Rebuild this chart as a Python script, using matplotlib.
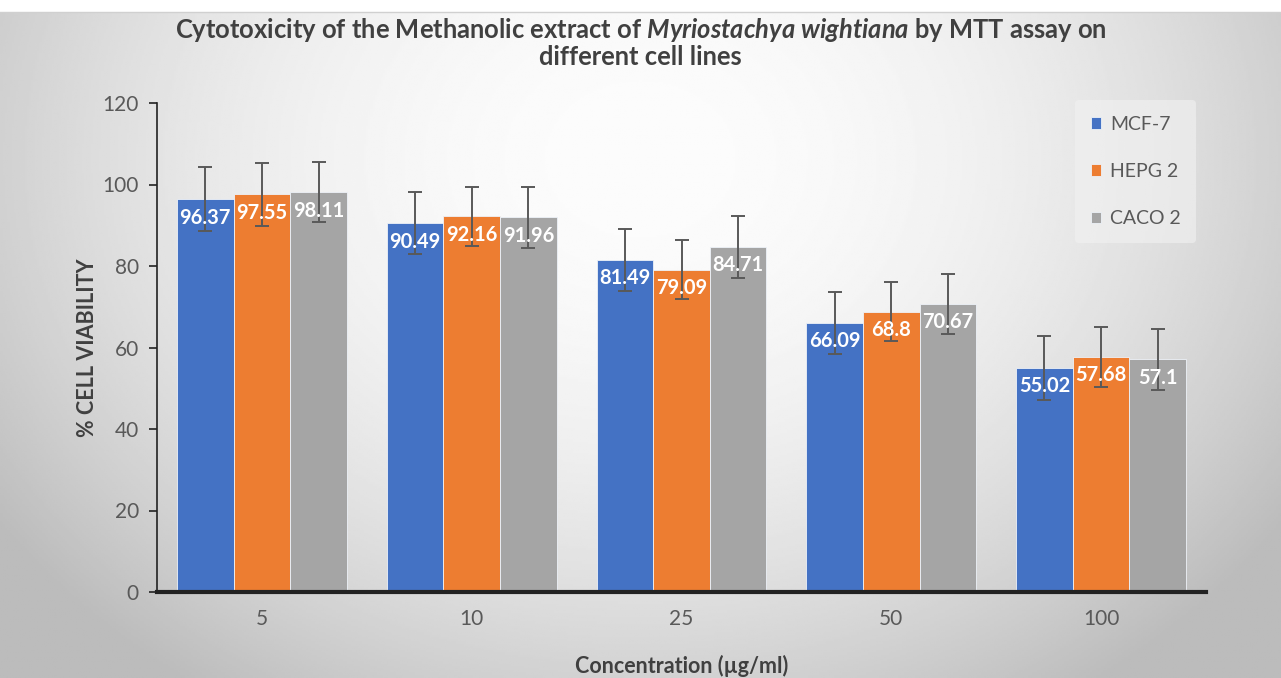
import numpy as np
import matplotlib
matplotlib.use("Agg")
import matplotlib.pyplot as plt

plt.rcParams["mathtext.fontset"] = "custom"
plt.rcParams["mathtext.it"] = "Lato:italic:bold"
plt.rcParams["mathtext.rm"] = "Lato:bold"

categories = ["5", "10", "25", "50", "100"]
series_names = ["MCF-7", "HEPG 2", "CACO 2"]
mcf7 = [96.37, 90.49, 81.49, 66.09, 55.02]
hepg2 = [97.55, 92.16, 79.09, 68.8, 57.68]
caco2 = [98.11, 91.96, 84.71, 70.67, 57.1]
mcf7_err = [7.9, 7.6, 7.6, 7.6, 7.8]
hepg2_err = [7.7, 7.3, 7.3, 7.3, 7.4]
caco2_err = [7.4, 7.5, 7.6, 7.4, 7.5]
colors = ["#4472C4", "#ED7D31", "#A5A5A5"]

W, H = 1281, 678
fig = plt.figure(figsize=(W / 100, H / 100), dpi=100)
fig.patch.set_facecolor("white")

# background gradient panel
top_frac = 1 - 12 / H
bg = fig.add_axes([0, 0, 1, top_frac], zorder=-10)
yy, xx = np.mgrid[0:300, 0:600]
xn = (xx / 599.0 - 0.5) / 0.60
yn = (yy / 299.0 - 0.22) / 0.95
r2 = xn ** 2 + yn ** 2
val = np.clip(252 - 62 * r2, 188, 252) / 255.0
bg.imshow(val, cmap="gray", vmin=0, vmax=1, aspect="auto", extent=[0, 1, 0, 1], origin="upper")
bg.set_axis_off()
fig.add_artist(plt.Line2D([0, 1], [top_frac, top_frac], color="#d0d0d0", lw=1))

ax = fig.add_axes([157 / W, 1 - 592 / H, (1206 - 157) / W, (592 - 103) / H])
ax.set_facecolor("none")

x = np.arange(len(categories))
bw = 0.27
series = [mcf7, hepg2, caco2]
errs = [mcf7_err, hepg2_err, caco2_err]
for i, (vals, e, c, name) in enumerate(zip(series, errs, colors, series_names)):
    pos = x + (i - 1) * bw
    ax.bar(pos, vals, width=bw, color=c, edgecolor="#eef2f8", linewidth=0.6, label=name, zorder=2)
    ax.errorbar(pos, vals, yerr=e, fmt="none", ecolor="#595959", elinewidth=1.4, capsize=5, capthick=1.4, zorder=4)
    for p, v in zip(pos, vals):
        ax.annotate(f"{v:g}", (p, v), xytext=(0, -6), textcoords="offset points",
                    ha="center", va="top", color="white", fontsize=14.5, fontweight="bold",
                    family="Lato", zorder=5)

ax.set_xlim(-0.5, len(categories) - 0.5)
ax.set_ylim(0, 120)
ax.set_yticks(np.arange(0, 121, 20))
ax.set_xticks(x)
ax.set_xticklabels(categories)
for s in ["top", "right"]:
    ax.spines[s].set_visible(False)
ax.spines["left"].set_color("#222222")
ax.spines["left"].set_linewidth(1.2)
ax.spines["bottom"].set_color("#222222")
ax.spines["bottom"].set_linewidth(3)
ax.tick_params(axis="y", length=6, width=1.2, color="#222222", labelsize=15, labelcolor="#595959", pad=7)
ax.tick_params(axis="x", length=0, labelsize=15, labelcolor="#595959", pad=12)
for t in ax.get_xticklabels() + ax.get_yticklabels():
    t.set_family("Lato")

ax.set_ylabel("% CELL VIABILITY", fontsize=15.5, fontweight="bold", color="#404040", family="Lato", labelpad=3)
ax.set_xlabel("Concentration (µg/ml)", fontsize=15.5, fontweight="bold", color="#404040", family="Lato", labelpad=19)

fig.text(0.5, 1 - 30 / H, "Cytotoxicity of the Methanolic extract of $Myriostachya$ $wightiana$ by MTT assay on",
         ha="center", va="center", fontsize=18.4, fontweight="bold", color="#404040", family="Lato")
fig.text(0.5, 1 - 57 / H, "different cell lines", ha="center", va="center", fontsize=18.4,
         fontweight="bold", color="#404040", family="Lato")

leg = ax.legend(loc="upper right", bbox_to_anchor=(1.0, 1.025), frameon=True,
                handlelength=0.55, handleheight=0.55, handletextpad=0.45, labelspacing=1.55,
                borderpad=0.8, prop={"family": "Lato", "size": 14})
leg.get_frame().set_facecolor("#f2f2f2")
leg.get_frame().set_edgecolor("none")
leg.get_frame().set_alpha(0.6)
for t in leg.get_texts():
    t.set_color("#595959")

fig.savefig("out.png", dpi=100)
